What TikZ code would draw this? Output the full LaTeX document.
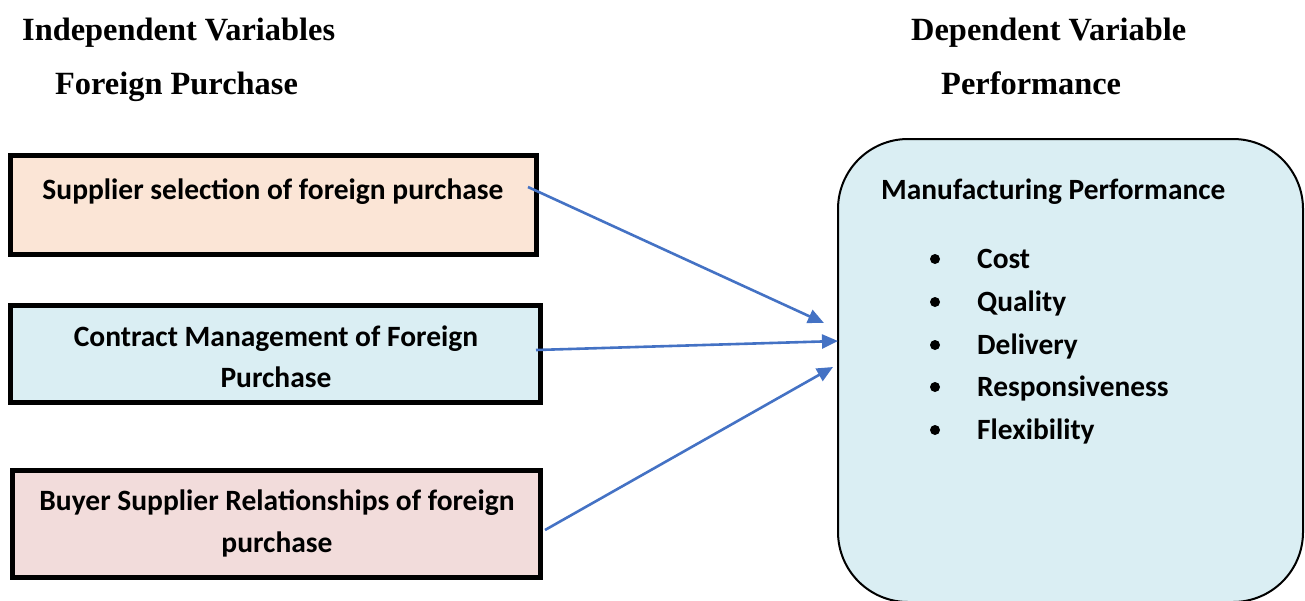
\documentclass[tikz,border=0pt]{standalone}
\usepackage{fontspec}
\setmainfont{Liberation Serif}
\newfontfamily\calfont{Carlito}
\usetikzlibrary{arrows.meta}
\definecolor{peach}{HTML}{FBE5D6}
\definecolor{lblue}{HTML}{DAEEF3}
\definecolor{lpink}{HTML}{F2DCDB}
\definecolor{arrblue}{HTML}{4472C4}
\begin{document}
\begin{tikzpicture}[x=1pt,y=-1pt,
  ivbox/.style={draw=black, line width=5pt, rectangle, inner sep=0pt},
  head/.style={font=\bfseries\fontsize{32.4}{36}\selectfont, anchor=base west, inner sep=0pt},
  btxt/.style={font=\calfont\bfseries\fontsize{29.5}{42}\selectfont, anchor=base, inner sep=0pt},
  itxt/.style={font=\calfont\bfseries\fontsize{29.4}{42}\selectfont, anchor=base west, inner sep=0pt},
  bul/.style={circle, fill=black, inner sep=0pt, minimum size=10pt},
  link/.style={draw=arrblue, line width=2.6pt, -{Triangle[length=16pt,width=14pt]}}
]
\useasboundingbox (0,0) rectangle (1305,600);
% headings
\node[head] (h1) at (22,40) {Independent Variables};
\node[head] (h2) at (55,94) {Foreign Purchase};
\node[head] (h3) at (911,40) {Dependent Variable};
\node[head] (h4) at (941,94) {Performance};
% independent variable boxes
\node[ivbox, fill=peach, minimum width=526pt, minimum height=99pt] (b1) at (273.5,205) {};
\node[ivbox, fill=lblue, minimum width=530pt, minimum height=97pt] (b2) at (275.5,354) {};
\node[ivbox, fill=lpink, minimum width=528pt, minimum height=107pt] (b3) at (276.5,524) {};
\node[btxt] (t1) at (273,199) {Supplier selection of foreign purchase};
\node[btxt] (t2a) at (276,346) {Contract Management of Foreign};
\node[btxt] (t2b) at (276,387) {Purchase};
\node[btxt] (t3a) at (277,510) {Buyer Supplier Relationships of foreign};
\node[btxt] (t3b) at (277,552) {purchase};
% dependent variable box
\draw[draw=black, line width=2pt, fill=lblue, rounded corners=70pt] (838,139) rectangle (1303,602);
\coordinate (mp) at (838,341);
\node[itxt] (mt) at (881,199) {Manufacturing Performance};
\node[bul] (d1) at (935,259) {};
\node[bul] (d2) at (935,302) {};
\node[bul] (d3) at (935,345) {};
\node[bul] (d4) at (935,387) {};
\node[bul] (d5) at (935,430) {};
\node[itxt] (i1) at (977,268) {Cost};
\node[itxt] (i2) at (977,311) {Quality};
\node[itxt] (i3) at (977,354) {Delivery};
\node[itxt] (i4) at (977,396) {Responsiveness};
\node[itxt] (i5) at (977,439) {Flexibility};
% connectors
\coordinate (s1) at (528,187);
\coordinate (e1) at (824,323);
\coordinate (s2) at (536,350);
\coordinate (s3) at (545,530);
\coordinate (e3) at (833,367);
\draw[link] (s1) -- (e1);
\draw[link] (s2) -- (mp);
\draw[link] (s3) -- (e3);
\end{tikzpicture}
\end{document}
